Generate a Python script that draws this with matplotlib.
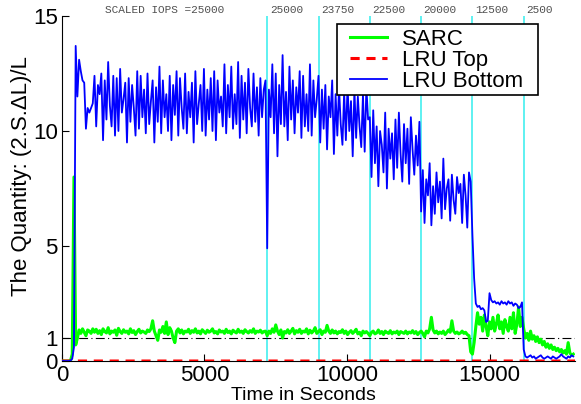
import numpy as np
import matplotlib.pyplot as plt
from matplotlib.patches import Rectangle

plt.rcParams['font.family'] = ['Liberation Sans', 'DejaVu Sans']

# cache-size change points (s) and the scaled IOPS of each phase
phase_edges = [0, 7200, 9000, 10800, 12600, 14400, 16200, 18000]
iops_labels = ['SCALED IOPS =25000', '25000', '23750', '22500', '20000', '12500', '2500']

# LRU Bottom, one list per phase (samples spread evenly over the phase)
bottom_start = [0, 0, 0, 0, 0, 0.02, 0.1, 0.6, 13.7, 11.5, 13.1, 12.6, 12.2, 12.1,
                10.1, 11.0, 10.8, 11.0, 11.2, 12.4, 10.2, 12.0, 11.6, 12.5, 9.6, 12.2,
                10.5, 13.0, 11.1, 10.2, 12.4, 9.8, 12.3, 10.0, 12.7, 10.8, 11.4, 12.1,
                9.5, 12.3, 10.4, 12.0, 11.0, 9.8, 12.6, 10.1, 12.4, 10.6, 11.8, 9.9,
                12.5, 10.3, 11.3, 12.2, 9.5, 11.9, 10.4, 12.8, 9.9, 12.2, 10.6, 11.6,
                10.0, 12.4, 9.6, 12.0, 10.7, 12.6, 9.8, 12.3, 11.0, 10.1, 12.5, 9.9,
                11.7, 10.6, 12.1, 9.5, 12.6, 10.3, 11.2, 12.0, 10.0, 12.7, 9.8, 11.8,
                10.5, 12.3, 10.0, 12.6, 9.6, 12.2, 10.8, 11.5, 10.2, 12.9, 9.9, 12.0,
                10.6, 12.8, 10.1, 11.6, 10.3, 13.0, 9.7, 12.4, 10.5, 12.1, 9.9, 12.7,
                11.0, 10.2, 12.5, 10.4, 11.9, 9.8, 12.3, 10.6, 11.8, 12.2]
bottom_25000 = [4.9, 11.8, 10.6, 12.9, 9.9, 12.5, 8.9, 12.0, 10.3, 13.3, 10.2, 11.7,
                9.6, 12.8, 10.5, 12.2, 9.9, 11.9, 10.8, 12.6, 9.7, 12.4, 10.2, 11.6,
                10.0, 12.9, 9.8, 12.2, 10.6, 11.4]
bottom_23750 = [12.4, 9.5, 11.8, 10.1, 12.0, 9.2, 11.5, 10.6, 12.2, 9.0, 11.6, 9.8,
                11.9, 10.3, 9.4, 11.7, 9.6, 12.0, 10.0, 11.3, 8.9, 11.8, 9.7, 11.5,
                10.2, 9.3, 11.6, 9.1, 11.9, 10.5]
bottom_22500 = [10.6, 8.0, 10.9, 8.6, 10.2, 7.6, 10.0, 9.4, 8.2, 10.8, 7.5, 10.1, 8.8,
                9.9, 7.9, 10.5, 8.4, 10.8, 9.0, 7.8, 10.3, 8.6, 10.1, 7.7, 10.6, 9.2,
                8.1, 9.8, 8.5, 10.4]
bottom_20000 = [6.5, 8.3, 6.0, 7.9, 7.2, 8.6, 5.9, 7.6, 6.4, 8.2, 6.9, 7.8, 6.2, 8.8,
                6.6, 7.5, 7.9, 6.1, 8.1, 7.0, 6.4, 8.0, 7.3, 7.7, 6.0, 8.1, 7.2, 5.8,
                8.2, 7.8]
bottom_12500 = [5.5, 3.6, 2.5, 2.35, 2.4, 2.25, 2.3, 2.2, 1.7, 1.75, 2.95, 2.65, 2.55,
                2.6, 2.5, 2.55, 2.45, 2.6, 2.5, 2.55, 2.45, 2.6, 2.5, 2.55, 2.4, 2.5,
                2.45, 2.3, 2.35, 2.55]
bottom_2500 = [0.5, 0.2, 0.15, 0.2, 0.25, 0.15, 0.2, 0.1, 0.15, 0.2, 0.25, 0.15, 0.1,
               0.15, 0.2, 0.15, 0.1, 0.2, 0.15, 0.1, 0.15, 0.2, 0.3, 0.2, 0.15, 0.1,
               0.2, 0.15, 0.25, 0.2]

# SARC
sarc_start = [0, 0, 0, 0, 0, 0.02, 0.3, 8.0, 0.7, 1.0, 1.35, 1.2, 1.4, 1.25, 1.1,
              1.35, 1.3, 1.2, 1.4,
              1.25, 1.38, 1.2, 1.32, 1.15, 1.4, 1.28, 1.22, 1.45, 1.18, 1.3, 1.25,
              1.35, 1.12, 1.42, 1.28, 1.2, 1.36, 1.25, 1.3, 1.18, 1.4, 1.24, 1.32,
              1.15, 1.28, 1.38, 1.22, 1.3, 1.26, 1.2, 1.35, 1.28, 1.4, 1.75, 1.3,
              1.1, 0.9, 1.35, 1.25, 1.5, 1.2, 1.7, 1.15, 1.45, 1.3, 1.0, 0.8, 1.3,
              1.4, 1.22, 1.35, 1.18, 1.3, 1.26, 1.38, 1.2, 1.32, 1.25, 1.4, 1.22,
              1.3, 1.18, 1.36, 1.28, 1.2, 1.34, 1.25, 1.3, 1.4, 1.22, 1.28, 1.18,
              1.35, 1.26, 1.3, 1.2, 1.38, 1.24, 1.3, 1.18, 1.34, 1.27, 1.22, 1.38,
              1.25, 1.3, 1.2, 1.36, 1.28, 1.22, 1.32, 1.25, 1.4, 1.2, 1.3, 1.26,
              1.34, 1.22, 1.28, 1.3]
sarc_mid = [1.1, 1.3, 1.2, 1.4, 1.25, 1.57, 1.3, 1.15, 1.35, 1.0, 1.28, 1.22, 1.36,
            1.2, 1.3, 1.42, 1.18, 1.32, 1.25, 1.38, 1.2, 1.3, 1.26, 1.4, 1.18, 1.34,
            1.22, 1.3, 1.45, 1.2, 1.28, 1.36, 1.15, 1.3, 1.25, 1.55, 1.3, 1.2, 1.35,
            1.22, 1.3, 1.18, 1.28, 1.24, 1.36, 1.2, 1.3, 1.15, 1.25, 1.32, 1.2, 1.28,
            1.38, 1.18, 1.25, 1.1, 1.3, 1.22, 1.28, 1.2, 1.1, 1.25, 1.3, 1.18, 1.22,
            1.35, 1.2, 1.28, 1.15, 1.3, 1.24, 1.2, 1.32, 1.18, 1.26, 1.22, 1.3, 1.15,
            1.28, 1.24, 1.2, 1.3, 1.18, 1.26, 1.22, 1.32, 1.2, 1.28, 1.15, 1.24, 1.3,
            1.2, 1.05, 1.3, 1.22, 1.4, 1.9, 1.35, 1.22, 1.3, 1.18, 1.26, 1.2, 1.3,
            1.15, 1.24, 1.35, 1.25, 1.75, 1.3, 1.2, 1.26, 1.18, 1.22, 1.3, 1.2, 1.25,
            1.15, 1.1, 0.4]
sarc_12500 = [0.3, 0.8, 1.5, 2.1, 1.6, 1.9, 1.3, 2.0, 1.5, 1.1, 1.7, 1.4, 1.9, 1.3,
              1.6, 2.0, 1.4, 1.7, 1.2, 1.8, 1.5, 1.3, 1.9, 1.4, 2.1, 1.2, 1.6, 2.35,
              1.5, 1.9]
sarc_2500 = [1.4, 1.0, 1.2, 0.9, 1.3, 0.95, 1.1, 0.85, 1.05, 0.8, 0.95, 0.7, 0.85,
             0.6, 0.75, 0.55, 0.7, 0.5, 0.6, 0.45, 0.55, 0.4, 0.5, 0.35, 0.45, 0.3,
             0.8, 0.35, 0.25, 0.3]

# LRU Top stays at zero
top_t = [0, 12600, 12630, 12660, 18000]
top_v = [0.0, 0.0, 0.1, 0.0, 0.0]


def spread(chunks):
    ts, vs = [], []
    for (t0, t1), vals in chunks:
        ts.append(np.linspace(t0, t1, len(vals), endpoint=False))
        vs.append(vals)
    return np.concatenate(ts), np.concatenate(vs)


bottom_t, bottom_v = spread([
    ((0, 7200), bottom_start), ((7200, 9000), bottom_25000),
    ((9000, 10800), bottom_23750), ((10800, 12600), bottom_22500),
    ((12600, 14400), bottom_20000), ((14400, 16200), bottom_12500),
    ((16200, 18000), bottom_2500)])
sarc_t, sarc_v = spread([
    ((0, 7200), sarc_start), ((7200, 14400), sarc_mid),
    ((14400, 16200), sarc_12500), ((16200, 18000), sarc_2500)])

fig = plt.figure(figsize=(5.81, 4.04), dpi=100)
ax = fig.add_axes([0.1067, 0.1064, 0.883, 0.854])

for x in phase_edges[1:-1]:
    ax.axvline(x, color='#33eeee', lw=1.1, zorder=1)
ax.axhline(1, color='black', lw=0.8, ls='-.', dashes=(8, 3, 1, 3), zorder=1)

ax.plot(sarc_t, sarc_v, color='#00ff00', lw=2.2, label='SARC', zorder=3)
ax.plot(top_t, top_v, color='red', lw=2.2, dashes=(3, 2.2), label='LRU Top', zorder=3)
ax.plot(bottom_t, bottom_v, color='blue', lw=1.3, label='LRU Bottom', zorder=4)

ax.text(3600, 15.25, iops_labels[0], ha='center', va='center', fontsize=8,
        family='Liberation Mono', color='#505050', clip_on=False)
for x, lab in zip(phase_edges[1:-1], iops_labels[1:]):
    ax.text(x + 90, 15.25, lab, ha='left', va='center', fontsize=8,
            family='Liberation Mono', color='#505050', clip_on=False)

ax.set_xlim(0, 18000)
ax.set_ylim(0, 15)
ax.set_xticks([0, 5000, 10000, 15000])
ax.set_yticks([0, 1, 5, 10, 15])
ax.tick_params(direction='in', length=5, labelsize=16, pad=3)
ax.spines['top'].set_visible(False)
ax.spines['right'].set_visible(False)

ax.set_xlabel('Time in Seconds', fontsize=14)
ax.set_ylabel('The Quantity: (2.S.\u0394L)/L', fontsize=16)
ax.xaxis.set_label_coords(0.47, -0.076)
ax.yaxis.set_label_coords(-0.058, 0.536)

# legend entries without frame, box drawn separately (wider side padding)
leg = ax.legend(loc='upper left', bbox_to_anchor=(0.561, 0.962), borderaxespad=0,
                fontsize=16, frameon=False, labelspacing=0.0, handlelength=1.67,
                handletextpad=0.68, borderpad=0)
ax.add_patch(Rectangle((0.536, 0.771), 0.392, 0.206, transform=ax.transAxes,
                       facecolor='white', edgecolor='black', lw=1.2, zorder=5))
leg.set_zorder(6)

plt.savefig('out.png', dpi=100)
